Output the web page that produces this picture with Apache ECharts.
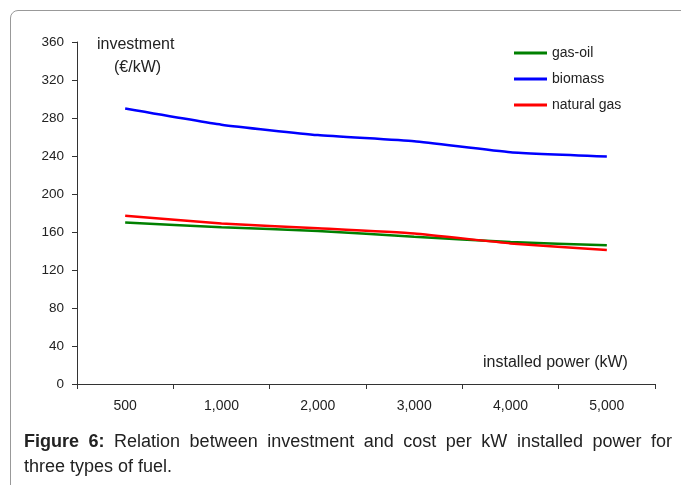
<!DOCTYPE html>
<html>
<head>
<meta charset="utf-8">
<script src="https://cdn.jsdelivr.net/npm/echarts@6/dist/echarts.min.js"></script>
<style>
    html, body { margin: 0; padding: 0; background: #fff; }
    #wrap { position: relative; width: 681px; height: 485px; overflow: hidden; }
    #frame { position: absolute; left: 10px; top: 10px; width: 720px; height: 520px;
             border: 1px solid #999; border-radius: 8px; box-sizing: border-box; }
    #chart { position: absolute; left: 0; top: 0; width: 681px; height: 485px; }
    .cap { position: absolute; left: 24px; width: 648px; font-family: 'Liberation Sans', Arial, sans-serif;
           font-size: 18px; color: #222; line-height: 23px; white-space: nowrap; }
    #cap1 { top: 430px; text-align: justify; text-align-last: justify; white-space: normal; }
    #cap2 { top: 455px; }
</style>
</head>
<body>
<div id="wrap">
    <div id="frame"></div>
    <div id="chart"></div>
    <div class="cap" id="cap1"><b>Figure 6:</b> Relation between investment and cost per kW installed power for</div>
    <div class="cap" id="cap2">three types of fuel.</div>
</div>
<script>
    // installed power categories (kW)
    var categories = ['500', '1,000', '2,000', '3,000', '4,000', '5,000'];
    var yTicks = [0, 40, 80, 120, 160, 200, 240, 280, 320, 360];

    // investment (€/kW)
    var gasOil = [170, 165, 161, 155, 149.5, 146];
    var biomass = [290, 273, 262, 255.5, 244, 239.5];
    var naturalGas = [177, 169, 164, 158.5, 148, 141];

    var font = "'Liberation Sans', Arial, sans-serif";

    var chart = echarts.init(document.getElementById('chart'));

    var line = function (name, data, color) {
        return {
            name: name,
            type: 'line',
            data: data,
            smooth: 0.15,
            symbol: 'none',
            lineStyle: { color: color, width: 2.5 },
            itemStyle: { color: color }
        };
    };

    var option = {
        animation: false,
        grid: { left: 77, right: 26, top: 42, bottom: 101 },
        legend: {
            orient: 'vertical',
            left: 514,
            top: 40,
            padding: 0,
            icon: 'rect',
            itemWidth: 33,
            itemHeight: 3,
            itemGap: 0,
            textStyle: { fontFamily: font, fontSize: 14, color: '#222', lineHeight: 26 },
            data: ['gas-oil', 'biomass', 'natural gas']
        },
        xAxis: {
            type: 'category',
            data: categories,
            boundaryGap: true,
            axisLine: { lineStyle: { color: '#333', width: 1 } },
            axisTick: { show: true, length: 5, lineStyle: { color: '#333' } },
            axisLabel: { fontFamily: font, fontSize: 14, color: '#222', margin: 15 },
            splitLine: { show: false }
        },
        yAxis: {
            type: 'value',
            min: yTicks[0],
            max: yTicks[yTicks.length - 1],
            interval: yTicks[1] - yTicks[0],
            axisLine: { show: true, lineStyle: { color: '#333', width: 1 } },
            axisTick: { show: true, length: 5, lineStyle: { color: '#333' } },
            axisLabel: { fontFamily: font, fontSize: 13.5, color: '#222', margin: 13 },
            splitLine: { show: false }
        },
        graphic: [
            {
                type: 'text', left: 97, top: 37,
                style: { text: 'investment', font: '16px ' + font, fill: '#222' }
            },
            {
                type: 'text', left: 114, top: 60,
                style: { text: '(€/kW)', font: '16px ' + font, fill: '#222' }
            },
            {
                type: 'text', left: 483, top: 355,
                style: { text: 'installed power (kW)', font: '16px ' + font, fill: '#222' }
            }
        ],
        series: [
            line('gas-oil', gasOil, '#008000'),
            line('biomass', biomass, '#0000ff'),
            line('natural gas', naturalGas, '#ff0000')
        ]
    };

    chart.setOption(option);
</script>
</body>
</html>
